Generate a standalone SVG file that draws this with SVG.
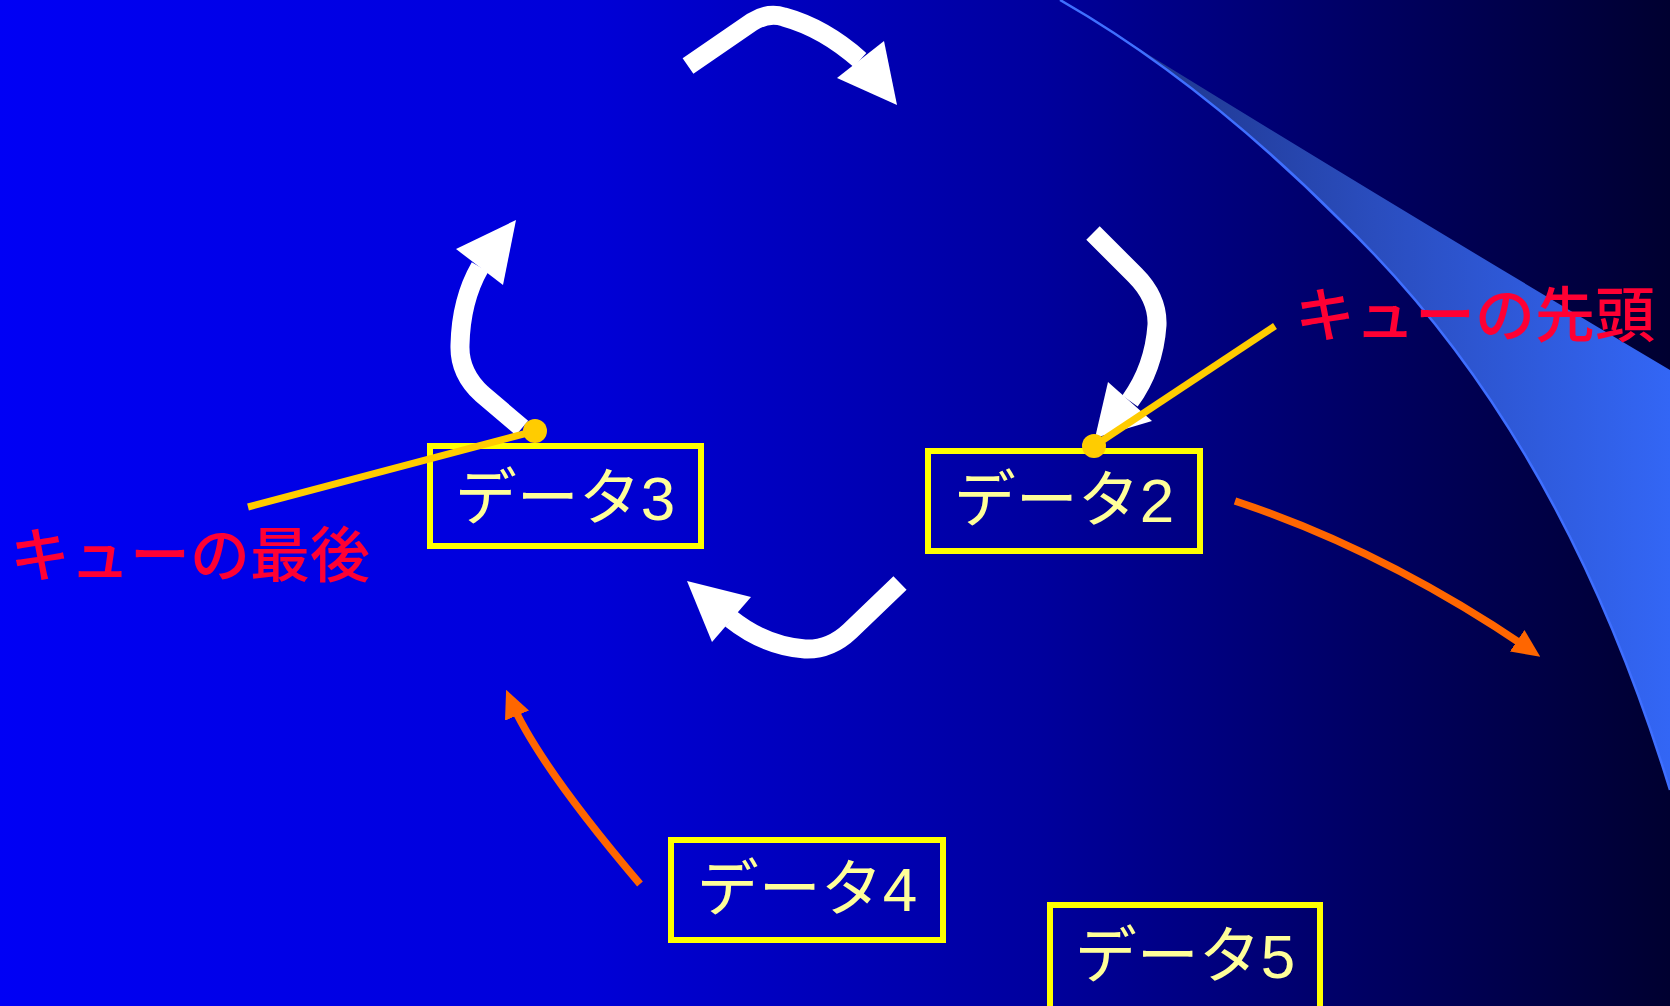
<svg xmlns="http://www.w3.org/2000/svg" width="1670" height="1006" viewBox="0 0 1670 1006">
<style>
.box rect{fill:none;stroke:#FFFF00;stroke-width:6}
.box text{font-family:"Liberation Sans","Noto Sans CJK JP",sans-serif;font-size:62px;fill:#FFFF99;text-anchor:middle}
.lbl{font-family:"Noto Sans CJK JP",sans-serif;font-size:60px;font-weight:500;fill:#FF0033}
.white{fill:none;stroke:#FFFFFF;stroke-width:19;stroke-linejoin:round}
.whead{fill:#FFFFFF}
.orange{fill:none;stroke:#FF6600;stroke-width:7.5;marker-end:url(#oh)}
.ptr{stroke:#FFCC00;stroke-width:7;fill:none}
.dot{fill:#FFCC00}
</style>
<defs>
<linearGradient id="bg" x1="0" y1="0" x2="1670" y2="0" gradientUnits="userSpaceOnUse">
<stop offset="0" stop-color="#0000F5"/>
<stop offset="0.35" stop-color="#0000D8"/>
<stop offset="0.62" stop-color="#00009E"/>
<stop offset="0.82" stop-color="#000062"/>
<stop offset="1" stop-color="#000030"/>
</linearGradient>
<linearGradient id="sw" x1="1080" y1="0" x2="1670" y2="0" gradientUnits="userSpaceOnUse">
<stop offset="0" stop-color="#1C3080"/>
<stop offset="0.5" stop-color="#2A4DBE"/>
<stop offset="1" stop-color="#3366F5"/>
</linearGradient>
<marker id="oh" markerUnits="userSpaceOnUse" markerWidth="28" markerHeight="26" viewBox="0 0 28 26" refX="18" refY="13" orient="auto">
<path d="M0,0 L28,13 L0,26 z" fill="#FF6600"/>
</marker>
</defs>
<rect width="1670" height="1006" fill="url(#bg)"/>
<g id="swoosh">
<path d="M1060,0 Q1350,180 1670,370 L1670,790 Q1560,430 1340,220 Q1200,80 1060,0 z" fill="url(#sw)"/>
<path d="M1060,0 Q1200,80 1340,220 Q1560,430 1670,790" fill="none" stroke="#3F6FFF" stroke-width="2.5"/>
</g>
<g id="connectors">
<path class="white" d="M688,66 L752,22 Q768,12 784,17 Q824,28 860,60"/>
<polygon class="whead" points="837,78 884,41 897,105"/>
<path class="white" d="M1093,233 L1135,275 Q1158,298 1157,325 Q1154,368 1130,401"/>
<polygon class="whead" points="1108,382 1152,421 1095,438"/>
<path class="white" d="M900,583 L850,631 Q830,650 805,649 Q765,646 731,619"/>
<polygon class="whead" points="687,581 751,597 712,642"/>
<path class="white" d="M522,428 L482,394 Q459,373 460,345 Q461,300 480,267"/>
<polygon class="whead" points="456,249 516,220 503,285"/>
<path class="orange" d="M1235,501 Q1384,550 1532,651"/>
<path class="orange" d="M640,884 Q537,763 510,699"/>
</g>
<g id="data3" class="box"><rect x="430" y="446" width="271" height="100"/><text x="565" y="520">データ3</text></g>
<g id="data2" class="box"><rect x="928" y="451" width="272" height="100"/><text x="1064" y="522">データ2</text></g>
<g id="data4" class="box"><rect x="671" y="840" width="272" height="100"/><text x="807" y="911">データ4</text></g>
<g id="data5" class="box"><rect x="1050" y="905" width="270" height="110"/><text x="1185" y="978">データ5</text></g>
<g id="tail-label">
<line class="ptr" x1="535" y1="431" x2="248" y2="507"/>
<circle class="dot" cx="535" cy="431" r="12"/>
<text class="lbl" x="10" y="577">キューの最後</text>
</g>
<g id="head-label">
<line class="ptr" x1="1094" y1="446" x2="1275" y2="326"/>
<circle class="dot" cx="1094" cy="446" r="12"/>
<text class="lbl" x="1295" y="337">キューの先頭</text>
</g>
</svg>
